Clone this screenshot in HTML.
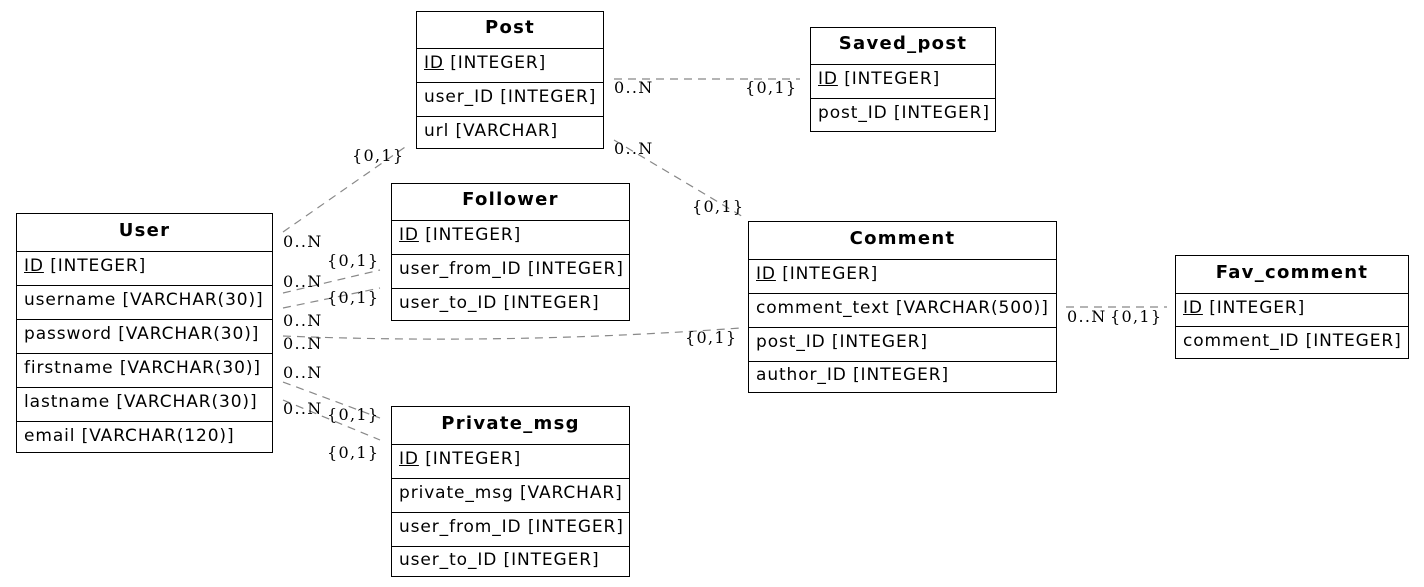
<!DOCTYPE html>
<html><head><meta charset="utf-8"><style>
body{margin:0;background:#fff;width:1424px;height:587px;position:relative;overflow:hidden;font-family:"DejaVu Sans","Liberation Sans",sans-serif;}
.t{position:absolute;border:1px solid #000;box-sizing:border-box;background:#fff}
.t div{box-sizing:border-box;border-top:1px solid #000;font-size:17px;letter-spacing:0.9px;padding-left:7px;padding-bottom:5px;white-space:nowrap;display:flex;align-items:center}
.t div.h{border-top:none;font-weight:bold;justify-content:center;padding-left:0;font-size:18px;letter-spacing:1.3px}
u{text-decoration:underline}
svg{position:absolute;left:0;top:0}
.l{font-family:"DejaVu Serif","Liberation Serif",serif;font-size:16px;letter-spacing:1.3px;fill:#000}
</style></head><body>
<svg width="1424" height="587">
<g stroke="#888" stroke-width="1.2" fill="none" stroke-dasharray="8,6">
<line x1="283" y1="232" x2="408" y2="145"/>
<line x1="283" y1="293" x2="380" y2="270"/>
<line x1="283" y1="308" x2="380" y2="288"/>
<path d="M283,336 Q510,345 740,328"/>
<line x1="283" y1="382" x2="380" y2="418"/>
<line x1="283" y1="400" x2="380" y2="440"/>
<line x1="614" y1="79" x2="800" y2="79"/>
<line x1="614" y1="140" x2="745" y2="218"/>
<line x1="1066" y1="307" x2="1167" y2="307"/>
</g>
<g class="l">
<text x="352" y="161" class="l">{0,1}</text>
<text x="283" y="247" class="l">0..N</text>
<text x="327" y="266" class="l">{0,1}</text>
<text x="283" y="287" class="l">0..N</text>
<text x="327" y="303" class="l">{0,1}</text>
<text x="283" y="326" class="l">0..N</text>
<text x="283" y="349" class="l">0..N</text>
<text x="283" y="378" class="l">0..N</text>
<text x="283" y="414" class="l">0..N</text>
<text x="327" y="420" class="l">{0,1}</text>
<text x="327" y="458" class="l">{0,1}</text>
<text x="614" y="93" class="l">0..N</text>
<text x="745" y="93" class="l">{0,1}</text>
<text x="614" y="154" class="l">0..N</text>
<text x="692" y="212" class="l">{0,1}</text>
<text x="685" y="343" class="l">{0,1}</text>
<text x="1067" y="322" class="l">0..N</text>
<text x="1110" y="322" class="l">{0,1}</text>
</g>
</svg>
<div class="t" style="left:16px;top:213px;width:257px;height:240px">
<div class="h" style="height:37px">User</div>
<div style="height:34px"><u>ID</u>&nbsp;[INTEGER]</div>
<div style="height:34px">username [VARCHAR(30)]</div>
<div style="height:34px">password [VARCHAR(30)]</div>
<div style="height:34px">firstname [VARCHAR(30)]</div>
<div style="height:34px">lastname [VARCHAR(30)]</div>
<div style="height:33px">email [VARCHAR(120)]</div>
</div>
<div class="t" style="left:416px;top:11px;width:188px;height:138px">
<div class="h" style="height:36px">Post</div>
<div style="height:34px"><u>ID</u>&nbsp;[INTEGER]</div>
<div style="height:34px">user_ID [INTEGER]</div>
<div style="height:33px">url [VARCHAR]</div>
</div>
<div class="t" style="left:810px;top:27px;width:186px;height:105px">
<div class="h" style="height:36px">Saved_post</div>
<div style="height:34px"><u>ID</u>&nbsp;[INTEGER]</div>
<div style="height:33px">post_ID [INTEGER]</div>
</div>
<div class="t" style="left:391px;top:183px;width:239px;height:138px">
<div class="h" style="height:36px">Follower</div>
<div style="height:34px"><u>ID</u>&nbsp;[INTEGER]</div>
<div style="height:34px">user_from_ID [INTEGER]</div>
<div style="height:33px">user_to_ID [INTEGER]</div>
</div>
<div class="t" style="left:748px;top:221px;width:309px;height:172px">
<div class="h" style="height:37px">Comment</div>
<div style="height:34px"><u>ID</u>&nbsp;[INTEGER]</div>
<div style="height:34px">comment_text [VARCHAR(500)]</div>
<div style="height:34px">post_ID [INTEGER]</div>
<div style="height:32px">author_ID [INTEGER]</div>
</div>
<div class="t" style="left:1175px;top:255px;width:234px;height:104px">
<div class="h" style="height:37px">Fav_comment</div>
<div style="height:33px"><u>ID</u>&nbsp;[INTEGER]</div>
<div style="height:33px">comment_ID [INTEGER]</div>
</div>
<div class="t" style="left:391px;top:406px;width:239px;height:171px">
<div class="h" style="height:37px">Private_msg</div>
<div style="height:34px"><u>ID</u>&nbsp;[INTEGER]</div>
<div style="height:34px">private_msg [VARCHAR]</div>
<div style="height:34px">user_from_ID [INTEGER]</div>
<div style="height:31px">user_to_ID [INTEGER]</div>
</div>
</body></html>
